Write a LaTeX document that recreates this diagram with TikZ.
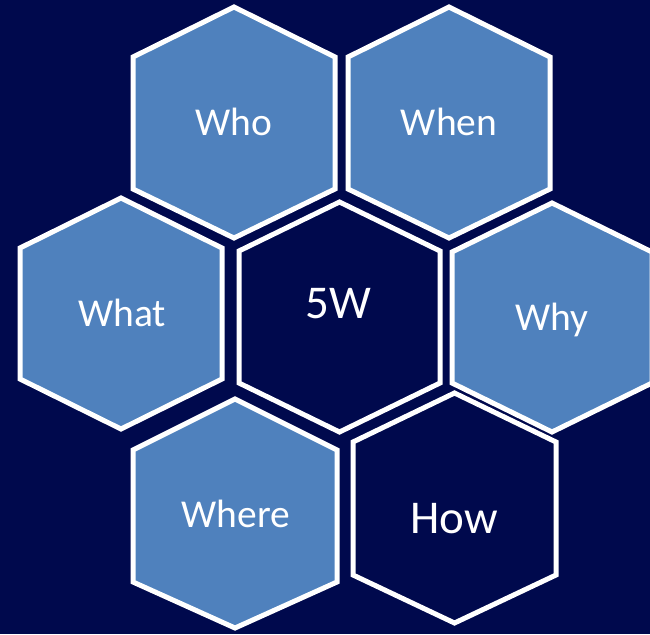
\documentclass[tikz,border=0pt]{standalone}
\usepackage{fontspec}
\setmainfont{Carlito}
\definecolor{navy}{RGB}{0,9,77}
\definecolor{hexblue}{RGB}{79,129,189}
\newcommand\hexshape[8]{% cx, hw, top, yu, yl, bottom, fill, name
  \draw[hexline, fill=#7] (#1,#3) -- (#1+#2,#4) -- (#1+#2,#5) -- (#1,#6)
    -- (#1-#2,#5) -- (#1-#2,#4) -- cycle;
  \coordinate (#8) at (#1,{(#3+#6)/2});
}
\tikzset{
  hexline/.style={draw=white, line width=5pt, line join=miter},
  smalllabel/.style={text=white, font=\fontsize{39.5}{42}\selectfont, anchor=base, inner sep=0pt},
  biglabel/.style={text=white, font=\fontsize{47}{50}\selectfont, anchor=base, inner sep=0pt}
}
\begin{document}
\begin{tikzpicture}[x=1pt,y=-1pt]
\useasboundingbox (0,0) rectangle (650,634);
\fill[navy] (0,0) rectangle (650,634);
\begin{scope}
\clip (0,0) rectangle (650,634);
\hexshape{234}{101}{7}{57}{189}{238}{hexblue}{hwho}
\hexshape{449}{101}{7}{57}{189}{238}{hexblue}{hwhen}
\hexshape{121}{101}{198}{248}{379}{429}{hexblue}{hwhat}
\hexshape{339.5}{100.5}{202}{251}{383}{432}{navy}{h5w}
\hexshape{552}{100}{203}{252}{383}{432}{hexblue}{hwhy}
\hexshape{235}{102}{399}{450}{582}{628}{hexblue}{hwhere}
\hexshape{454.5}{101.5}{393}{442}{575}{623}{navy}{hhow}
\end{scope}
\node[smalllabel] (who) at (234,135) {Who};
\node[smalllabel] (when) at (449,135) {When};
\node[smalllabel] (what) at (122,326) {What};
\node[biglabel] (fivew) at (338,318) {5W};
\node[smalllabel] (why) at (552,330) {Why};
\node[smalllabel] (where) at (236,527) {Where};
\node[biglabel] (how) at (454,533) {How};
\end{tikzpicture}
\end{document}
